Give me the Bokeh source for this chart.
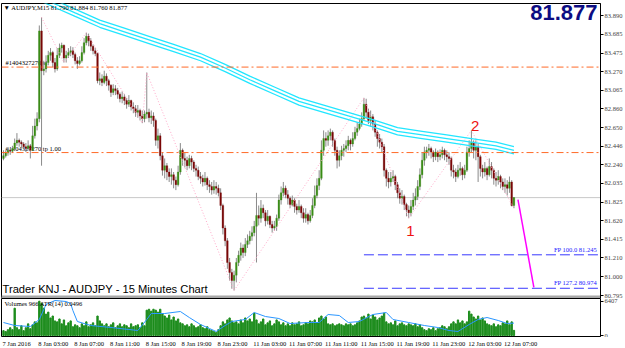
from bokeh.plotting import figure
from bokeh.layouts import column
from bokeh.models import Range1d, FixedTicker, PrintfTickFormatter, Label, ColumnDataSource
from bokeh.embed import file_html
from bokeh.resources import INLINE
from bokeh.core.properties import value

# ---------------- data (AUDJPY M15) ----------------
first_open = 82.31
close = [
82.34,82.37,82.40,82.39,82.42,82.48,82.51,82.49,82.47,82.44,
82.42,82.45,82.40,82.56,82.67,82.75,83.72,83.28,83.30,83.37,
83.45,83.48,83.37,83.30,83.45,83.53,83.56,83.42,83.45,83.48,
83.50,83.46,83.39,83.36,83.39,83.48,83.59,83.66,83.61,83.55,
83.50,83.47,83.17,83.19,83.15,83.22,83.17,83.12,83.04,83.08,
83.06,83.02,82.97,82.99,82.95,82.91,82.95,82.88,82.86,82.82,
82.84,82.78,82.75,82.80,82.82,82.76,82.78,82.73,82.51,82.56,
82.34,82.18,82.23,82.16,82.11,82.13,82.07,82.02,82.16,82.40,
82.31,82.29,82.23,82.31,82.27,82.20,82.18,82.11,82.09,82.05,
82.09,82.02,82.00,81.96,82.00,81.98,81.93,81.79,81.54,81.40,
81.16,81.05,80.96,81.02,81.16,81.24,81.32,81.27,81.36,81.40,
81.45,81.49,81.56,81.68,81.65,81.76,81.71,81.62,81.67,81.58,
81.54,81.56,81.65,81.85,81.93,81.98,81.91,81.87,81.80,81.85,
81.78,81.74,81.78,81.71,81.65,81.69,81.62,81.68,81.79,81.90,
82.01,82.09,82.40,82.53,82.51,82.56,82.60,82.51,82.40,82.29,
82.34,82.40,82.42,82.45,82.51,82.47,82.53,82.60,82.64,82.69,
82.75,82.91,82.82,82.73,82.77,82.69,82.60,82.53,82.49,82.44,
82.18,82.09,82.05,82.09,82.11,82.02,81.93,81.87,81.89,81.80,
81.74,81.71,81.78,81.85,81.89,82.00,82.13,82.29,82.38,82.40,
82.42,82.38,82.33,82.38,82.33,82.35,82.40,82.35,82.33,82.31,
82.18,82.16,82.11,82.18,82.20,82.13,82.18,82.38,82.42,82.49,
82.40,82.44,82.33,82.20,82.16,82.20,82.13,82.22,82.18,82.09,
82.07,82.11,82.05,82.00,82.02,81.98,82.05,81.79,81.877]
high = [
82.40,82.40,82.43,82.42,82.45,82.53,82.59,82.53,82.51,82.49,
82.48,82.51,82.47,82.67,82.75,82.82,83.78,83.87,83.39,83.45,
83.50,83.53,83.50,83.42,83.53,83.58,83.59,83.57,83.50,83.53,
83.55,83.54,83.48,83.43,83.44,83.55,83.64,83.70,83.69,83.64,
83.57,83.53,83.48,83.26,83.24,83.28,83.25,83.19,83.13,83.13,
83.12,83.09,83.04,83.05,83.02,82.98,83.01,82.96,82.93,82.90,
82.90,82.86,82.84,82.84,83.26,82.86,82.84,82.82,82.75,82.64,
82.59,82.38,82.31,82.26,82.20,82.20,82.16,82.11,82.23,82.48,
82.42,82.38,82.33,82.35,82.34,82.29,82.24,82.22,82.16,82.13,
82.16,82.11,82.07,82.05,82.07,82.05,82.02,81.98,81.81,81.57,
81.43,81.21,81.09,81.07,81.21,81.29,81.38,81.36,81.43,81.47,
81.51,81.56,81.62,81.93,81.79,81.85,81.80,81.74,81.74,81.68,
81.62,81.62,81.69,81.91,82.00,82.05,82.01,81.96,81.89,81.90,
81.87,81.81,81.85,81.80,81.76,81.76,81.71,81.74,81.87,82.01,
82.09,82.18,82.51,82.62,82.60,82.62,82.64,82.62,82.53,82.44,
82.40,82.45,82.47,82.51,82.56,82.53,82.60,82.66,82.71,82.75,
82.82,82.98,82.97,82.86,82.84,82.80,82.73,82.62,82.58,82.53,
82.47,82.20,82.16,82.16,82.18,82.13,82.05,81.98,81.96,81.91,
81.82,81.79,81.85,81.93,81.98,82.07,82.20,82.38,82.44,82.44,
82.47,82.44,82.40,82.42,82.40,82.41,82.44,82.42,82.40,82.38,
82.33,82.24,82.20,82.24,82.27,82.22,82.24,82.44,82.51,82.62,
82.51,82.51,82.47,82.35,82.24,82.27,82.22,82.31,82.27,82.20,
82.16,82.18,82.13,82.09,82.09,82.07,82.11,82.07,81.884]
low = [
82.29,82.32,82.34,82.35,82.37,82.40,82.45,82.44,82.42,82.41,
82.38,82.40,82.31,82.40,82.53,82.62,82.71,82.23,83.23,83.26,
83.34,83.39,83.32,83.26,83.28,83.42,83.48,83.37,83.37,83.42,
83.44,83.42,83.35,83.30,83.34,83.37,83.46,83.56,83.55,83.50,
83.46,83.44,83.14,83.12,83.11,83.13,83.11,83.06,82.99,83.01,
83.01,82.97,82.93,82.92,82.90,82.86,82.88,82.84,82.81,82.77,
82.76,82.73,82.70,82.71,82.75,82.71,82.69,82.66,82.45,82.42,
82.29,82.12,82.09,82.07,82.05,82.02,81.98,81.96,82.00,82.13,
82.23,82.21,82.18,82.20,82.18,82.16,82.11,82.07,82.03,82.00,
82.01,81.96,81.93,81.91,81.92,81.91,81.89,81.74,81.47,81.34,
81.09,80.96,80.87,80.85,80.94,81.12,81.18,81.21,81.23,81.32,
81.36,81.40,81.45,81.16,81.57,81.60,81.65,81.56,81.58,81.54,
81.49,81.51,81.51,81.62,81.80,81.89,81.87,81.80,81.76,81.78,
81.71,81.69,81.71,81.65,81.60,81.60,81.58,81.60,81.65,81.76,
81.87,81.96,82.07,82.34,82.44,82.45,82.51,82.44,82.34,82.20,
82.22,82.29,82.33,82.38,82.40,82.40,82.44,82.51,82.56,82.62,
82.66,82.73,82.75,82.69,82.66,82.62,82.55,82.44,82.42,82.38,
82.11,82.00,81.98,82.00,82.05,81.96,81.87,81.81,81.80,81.74,
81.67,81.65,81.67,81.74,81.79,81.85,81.96,82.09,82.23,82.31,
82.34,82.31,82.27,82.29,82.27,82.29,82.31,82.29,82.27,82.24,
82.11,82.09,82.05,82.09,82.12,82.07,82.09,82.16,82.33,82.38,
82.31,82.29,82.05,82.11,82.09,82.11,82.07,82.11,82.09,82.02,
82.00,82.02,81.98,81.96,81.93,81.90,81.93,81.78,81.760]
volume = [
910,730,1090,1460,1090,5100,1460,
1090,1820,910,1460,2180,1270,
2000,2550,2370,
6407,6010,5100,4000,4370,3280,3640,2730,
2550,3090,2180,2910,1820,2370,2730,1640,2000,1820,
1460,2180,1820,2550,1640,2000,2370,1820,
3640,2730,2180,
1820,2180,1640,2000,2370,1460,1820,2180,1640,2000,1820,1460,2180,1640,1820,2000,1460,2370,1820,
4730,4910,4550,4910,4730,4370,4910,4000,
3640,3280,3820,2910,3460,2730,3090,
2370,2180,1820,2000,1640,2180,1820,1460,1640,2000,1460,1270,1640,1090,910,730,
550,1090,1820,2550,2180,2910,3280,2730,2370,
2550,2180,2910,2370,3280,2730,3090,2550,4190,
2910,2180,2550,3090,2000,2370,2730,1820,2180,2910,2550,2000,2370,1820,2180,
1820,2370,2000,2180,2550,1820,2000,2370,2180,2730,2550,2910,2370,
3280,3640,3090,3460,2180,
2000,2180,1820,2000,2180,2000,1820,2180,2000,2180,1820,2000,2370,
2730,3460,3640,3280,4000,3090,3820,3460,2910,3280,3640,4190,
2550,2180,2370,2000,2730,1820,2180,2370,2000,1820,2180,2000,
1820,2180,1640,2000,1460,1090,
910,1270,1090,1460,910,1270,
1460,1820,1640,1270,1640,2180,
2550,2180,2910,2370,2730,2180,2550,
4550,4000,3460,
3090,3640,2910,3280,2730,2180,
2000,1820,2180,1640,2000,1820,
2370,2180,2730,2000,2550,
966]
atr_idx = [0,5,12,16,19,23,28,30,31,33,39,48,56,60,64,66,72,79,83,88,
           92,95,99,102,108,112,117,123,128,136,141,145,150,154,159,165,171,174,181,188,
           194,199,203,208,212,216,221,225,228]
atr_val = [0.052,0.040,0.036,0.064,0.124,0.140,0.136,0.128,0.100,0.056,
           0.040,0.032,0.024,0.020,0.064,0.088,0.088,0.096,0.072,0.044,
           0.028,0.016,0.040,0.056,0.064,0.092,0.076,0.068,0.048,0.052,
           0.052,0.084,0.080,0.052,0.056,0.084,0.092,0.064,0.052,0.040,
           0.032,0.020,0.016,0.044,0.064,0.072,0.060,0.048,0.0496]
band_idx = [12,22,32,43,54,65,76,88,99,110,121,132,143,154,165,176,187,198,209,220,228]
band_mid = [84.14,84.03,83.92,83.80,83.71,83.62,83.53,83.43,83.31,83.18,83.06,
            82.94,82.86,82.78,82.70,82.61,82.57,82.53,82.49,82.45,82.40]
zz_idx = [17,27,37,62,64,103,161,181,209,228]
zz_price = [83.87,83.37,83.70,82.70,83.26,80.85,82.98,81.65,82.62,81.76]
price_ticks = [83.890,83.685,83.475,83.270,83.065,82.860,82.650,82.446,
               82.240,82.035,81.825,81.620,81.415,81.210,81.000,80.795]
time_ticks = [0,16,32,48,64,80,96,112,128,144,160,176,192,208,224]
time_labels = ["7 Jan 2016","8 Jan 03:00","8 Jan 07:00","8 Jan 11:00","8 Jan 15:00",
               "8 Jan 19:00","8 Jan 23:00","11 Jan 03:00","11 Jan 07:00","11 Jan 11:00",
               "11 Jan 15:00","11 Jan 19:00","11 Jan 23:00","12 Jan 03:00","12 Jan 07:00"]
order_levels = [83.32, 82.375]
order_labels = ["#1404327270 sl", "#1404327270 tp 1.00"]
fp_start = 161
fp_levels = [81.245, 80.875]
fp_labels = ["FP 100.0  81.245", "FP 127.2  80.974"]
bid = 81.877
proj_idx = [229.8, 236.9]
proj_price = [81.856, 80.884]
wave_idx = [181.8, 210.7]
wave_price = [81.51, 82.67]
wave_labels = ["1", "2"]
vol_max = 6407

SMALL = "Liberation Sans Narrow"

n = min(len(close), len(high), len(low), len(volume))
close, high, low, volume = close[:n], high[:n], low[:n], volume[:n]
opens = [first_open] + close[:-1]
hi = [max(a, b, c) for a, b, c in zip(high, opens, close)]
lo = [min(a, b, c) for a, b, c in zip(low, opens, close)]
idx = list(range(n))
up = [c > o for o, c in zip(opens, close)]
body_col = ["#3a8c16" if u else ("#7a0808" if c < o else "#909090")
            for u, o, c in zip(up, opens, close)]
src = ColumnDataSource(dict(x=idx, o=opens, c=close, h=hi, l=lo, col=body_col, v=volume))

# pixel mapping of the window (annotation placement only)
def ix(px):
    return (px - 3) / 2.25
def pr(py):
    return 84.056 - 0.011054 * py

x_range = Range1d(ix(1), ix(603))
p = figure(width=625, height=298, x_range=x_range, y_range=Range1d(pr(298), pr(3)),
           output_backend="svg", toolbar_location=None, x_axis_location=None,
           y_axis_location="right", min_border_left=1, min_border_right=22,
           min_border_top=3, min_border_bottom=0)
p.xgrid.visible = False
p.ygrid.visible = False
p.outline_line_color = "black"
p.background_fill_color = "white"
p.border_fill_color = "white"
ya = p.yaxis[0]
ya.ticker = FixedTicker(ticks=price_ticks)
ya.formatter = PrintfTickFormatter(format="%.3f")
ya.major_label_text_font = SMALL
ya.major_label_text_font_size = "6.5px"
ya.major_tick_out = 3
ya.major_tick_in = 0
ya.minor_tick_out = 0
ya.minor_tick_in = 0
ya.major_label_standoff = 1
ya.axis_line_color = "black"

# order labels (under candles)
p.text(x=[ix(5)] * 2, y=order_levels, text=order_labels, text_font=value(SMALL),
       text_font_size="6.5px", text_baseline="bottom", text_align="left",
       text_color="black", y_offset=-1)

# bid line
p.line([x_range.start, x_range.end], [bid, bid], color="#c8c8c8", line_width=1)

# candles
p.segment(x0="x", y0="l", x1="x", y1="h", source=src, color="#8a8a8a", line_width=1)
p.vbar(x="x", bottom="o", top="c", width=0.75, source=src, fill_color="col",
       line_color="col", line_width=0.3)

# zigzag
p.line(zz_idx, zz_price, color="#ffa8c8", line_width=1, line_dash="1 2")

# cyan channel
for off in (-0.04, 0.0, 0.04):
    p.line(band_idx, [b + off for b in band_mid], color="#22e6ff", line_width=1.3)

# order lines
for lv in order_levels:
    p.line([x_range.start, x_range.end], [lv, lv], color="#ff6a28",
           line_width=1, line_dash="7 3 2 3")

# FP levels
for lv in fp_levels:
    p.line([fp_start, x_range.end], [lv, lv], color="#3838ff", line_width=1, line_dash="10 4")
p.text(x=[ix(601)] * 2, y=fp_levels, text=fp_labels, text_font=value(SMALL),
       text_font_size="6.5px", text_baseline="bottom", text_align="right",
       text_color="#2020ff", y_offset=-2)

# projection
p.line(proj_idx, proj_price, color="#ff00ff", line_width=1.5)

# wave labels
p.text(x=wave_idx, y=wave_price, text=wave_labels, text_font=value("Liberation Sans"),
       text_font_size="15px", text_baseline="middle", text_align="center",
       text_color="#ee1111")

# separator band
p.quad(left=[x_range.start], right=[x_range.end], bottom=[pr(298)], top=[pr(295)],
       color="#a8a8a8", line_color=None)

# texts
p.add_layout(Label(x=ix(3), y=pr(3.5), text="\u25bc AUDJPY,M15  81.790 81.884 81.760 81.877",
                   text_font=SMALL, text_font_size="6.5px", text_baseline="top",
                   text_align="left", text_color="black"))
p.add_layout(Label(x=ix(600), y=pr(4), text="81.877", text_font="Liberation Sans",
                   text_font_size="22px", text_font_style="bold", text_baseline="top",
                   text_align="right", text_color="#0c0c82"))
p.add_layout(Label(x=ix(2), y=pr(294.5), text="Trader KNJ - AUDJPY - 15 Minutes Chart",
                   text_font="Liberation Sans", text_font_size="11.2px", text_baseline="bottom",
                   text_align="left", text_color="black"))

# ---------------- volume pane ----------------
vol_top = vol_max * 37 / 34.3
vol_bot = -vol_top * 1.0 / 38
q = figure(width=625, height=39, x_range=x_range, y_range=Range1d(vol_bot, vol_top),
           output_backend="svg", toolbar_location=None, y_axis_location="right",
           x_axis_location=None, min_border_left=1, min_border_right=22,
           min_border_top=0, min_border_bottom=1)
q.xgrid.visible = False
q.ygrid.visible = False
q.outline_line_color = "black"
q.extra_y_ranges = {"atr": Range1d(-0.004, 0.148)}
q.vbar(x="x", top="v", bottom=0, width=0.6, source=src, color="#1c8c1c")
q.line(atr_idx, atr_val, y_range_name="atr", color="#2a96ff", line_width=1)
qy = q.yaxis[0]
qy.ticker = FixedTicker(ticks=[0, vol_max])
qy.major_label_text_font = SMALL
qy.major_label_text_font_size = "6.5px"
qy.major_tick_out = 3
qy.major_tick_in = 0
qy.minor_tick_out = 0
qy.minor_tick_in = 0
qy.major_label_standoff = 1
q.add_layout(Label(x=ix(4), y=vol_top * 0.95, text="Volumes 966  ATR(14) 0.0496",
                   text_font=SMALL, text_font_size="6.5px", text_baseline="top",
                   text_align="left", text_color="black"))

# ---------------- time labels strip ----------------
r = figure(width=625, height=11, x_range=x_range, y_range=Range1d(0, 1),
           output_backend="svg", toolbar_location=None, x_axis_location=None,
           y_axis_location=None, min_border_left=1, min_border_right=22,
           min_border_top=0, min_border_bottom=0)
r.xgrid.visible = False
r.ygrid.visible = False
r.outline_line_color = None
r.text(x=time_ticks, y=[0.55] * len(time_ticks), text=time_labels, x_offset=-1,
       text_font=value(SMALL), text_font_size="6.5px", text_baseline="middle",
       text_align="left", text_color="black")

layout = column(p, q, r, spacing=0)
open("out.html", "w").write(file_html(layout, INLINE))
